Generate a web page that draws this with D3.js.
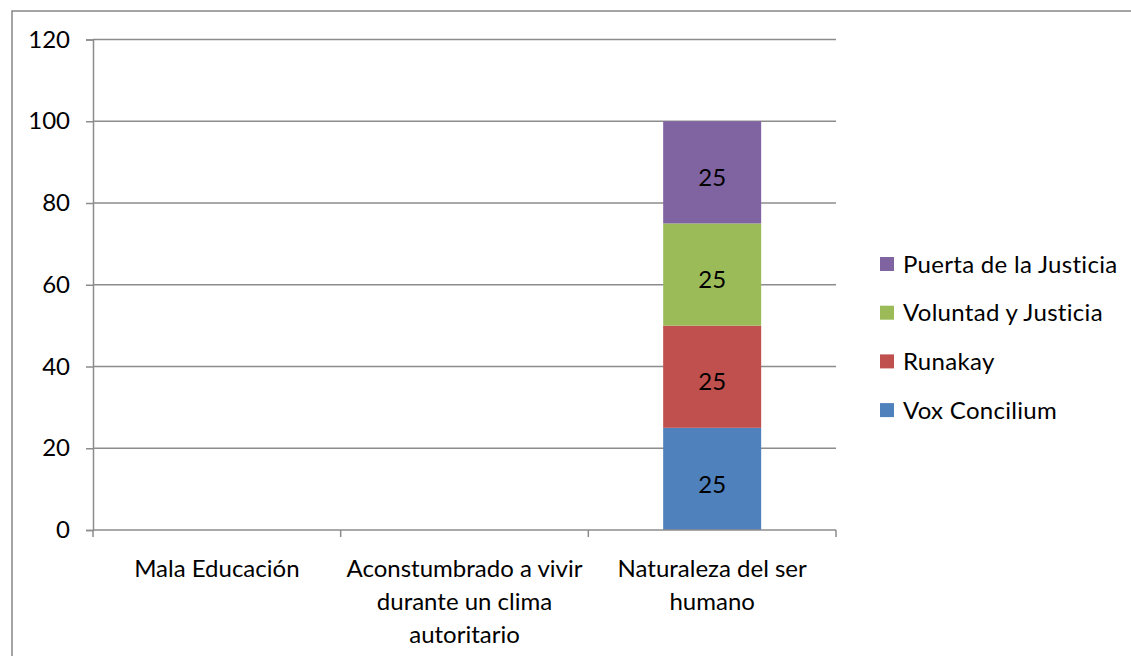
<!DOCTYPE html>
<html>
<head>
<meta charset="utf-8">
<script src="https://cdn.jsdelivr.net/npm/d3@7"></script>
<style>
  body { margin: 0; background: #fff; }
  text { font-family: Lato, "Open Sans", sans-serif; }
</style>
</head>
<body>
<div id="canvas"></div>
<script>
// data
var categories = [
  ["Mala Educación"],
  ["Aconstumbrado a vivir", "durante un clima", "autoritario"],
  ["Naturaleza del ser", "humano"]
];
var seriesNames = ["Vox Concilium", "Runakay", "Voluntad y Justicia", "Puerta de la Justicia"];
var seriesColors = ["#4f81bd", "#c0504d", "#9bbb59", "#8064a2"];
var voxConcilium = [0, 0, 25];
var runakay = [0, 0, 25];
var voluntadYJusticia = [0, 0, 25];
var puertaDeLaJusticia = [0, 0, 25];
var yTicks = [0, 20, 40, 60, 80, 100, 120];

var rows = categories.map(function(c, i) {
  return {
    cat: i,
    "Vox Concilium": voxConcilium[i],
    "Runakay": runakay[i],
    "Voluntad y Justicia": voluntadYJusticia[i],
    "Puerta de la Justicia": puertaDeLaJusticia[i]
  };
});

var svg = d3.select('#canvas').append('svg')
  .attr('width', 1131)
  .attr('height', 656);

svg.append('rect')
  .attr('x', 12).attr('y', 11)
  .attr('width', 1140).attr('height', 660)
  .attr('fill', '#fff')
  .attr('stroke', '#878787')
  .attr('stroke-width', 1.5);

var plotLeft = 93, plotRight = 836, plotTop = 39.5, plotBottom = 530;
var fontSize = 24;

var x = d3.scaleBand()
  .domain(d3.range(categories.length))
  .range([plotLeft, plotRight]);

var y = d3.scaleLinear()
  .domain([0, 120])
  .range([plotBottom, plotTop]);

// grid lines
svg.append('g').selectAll('line')
  .data(yTicks.slice(1))
  .join('line')
  .attr('x1', plotLeft).attr('x2', plotRight)
  .attr('y1', function(d) { return y(d); })
  .attr('y2', function(d) { return y(d); })
  .attr('stroke', '#8c8c8c')
  .attr('stroke-width', 1.5);

// y axis
var yAxis = svg.append('g')
  .attr('transform', 'translate(' + plotLeft + ',0)')
  .call(d3.axisLeft(y).tickValues(yTicks).tickSize(7).tickPadding(16));
yAxis.select('.domain').attr('stroke', '#8c8c8c').attr('stroke-width', 1.5);
yAxis.selectAll('.tick line').attr('stroke', '#8c8c8c').attr('stroke-width', 1.5);
yAxis.selectAll('.tick text')
  .attr('font-size', fontSize)
  .attr('fill', '#000')
  .style('font-family', 'Lato, sans-serif');

// bars
var stack = d3.stack().keys(seriesNames);
var layers = stack(rows);
var barWidth = 98;

var layerG = svg.append('g').selectAll('g')
  .data(layers)
  .join('g')
  .attr('fill', function(d, i) { return seriesColors[i]; });

layerG.selectAll('rect')
  .data(function(d) { return d.filter(function(p) { return p[1] - p[0] > 0; }); })
  .join('rect')
  .attr('x', function(d) { return x(d.data.cat) + x.bandwidth() / 2 - barWidth / 2; })
  .attr('width', barWidth)
  .attr('y', function(d) { return y(d[1]); })
  .attr('height', function(d) { return y(d[0]) - y(d[1]); });

// labels sit a little below the middle, like the original
layerG.selectAll('text')
  .data(function(d) { return d.filter(function(p) { return p[1] - p[0] > 0; }); })
  .join('text')
  .attr('x', function(d) { return x(d.data.cat) + x.bandwidth() / 2; })
  .attr('y', function(d) { return (y(d[0]) + y(d[1])) / 2 + 5; })
  .attr('dy', '0.36em')
  .attr('text-anchor', 'middle')
  .attr('font-size', fontSize)
  .attr('fill', '#000')
  .text(function(d) { return d[1] - d[0]; });

// x axis
svg.append('line')
  .attr('x1', plotLeft).attr('x2', plotRight)
  .attr('y1', plotBottom).attr('y2', plotBottom)
  .attr('stroke', '#8c8c8c').attr('stroke-width', 1.5);

svg.append('g').selectAll('line')
  .data(d3.range(categories.length + 1))
  .join('line')
  .attr('x1', function(i) { return plotLeft + i * x.bandwidth(); })
  .attr('x2', function(i) { return plotLeft + i * x.bandwidth(); })
  .attr('y1', plotBottom).attr('y2', plotBottom + 7)
  .attr('stroke', '#8c8c8c').attr('stroke-width', 1.5);

svg.append('g').selectAll('text')
  .data(categories)
  .join('text')
  .attr('text-anchor', 'middle')
  .attr('font-size', fontSize)
  .attr('fill', '#000')
  .attr('transform', function(d, i) {
    return 'translate(' + (x(i) + x.bandwidth() / 2) + ',' + 577 + ')';
  })
  .each(function(lines) {
    d3.select(this).selectAll('tspan')
      .data(lines)
      .join('tspan')
      .attr('x', 0)
      .attr('y', function(d, j) { return j * 33; })
      .text(function(d) { return d; });
  });

// legend
var legend = svg.append('g').selectAll('g')
  .data(seriesNames.slice().reverse())
  .join('g')
  .attr('transform', function(d, i) { return 'translate(880,' + (264 + i * 48.7) + ')'; });

legend.append('rect')
  .attr('x', 0).attr('y', -7)
  .attr('width', 14).attr('height', 14)
  .attr('fill', function(d) { return seriesColors[seriesNames.indexOf(d)]; });

legend.append('text')
  .attr('x', 23)
  .attr('dy', '0.36em')
  .attr('font-size', fontSize)
  .attr('fill', '#000')
  .style('letter-spacing', '0.3px')
  .text(function(d) { return d; });
</script>
</body>
</html>
